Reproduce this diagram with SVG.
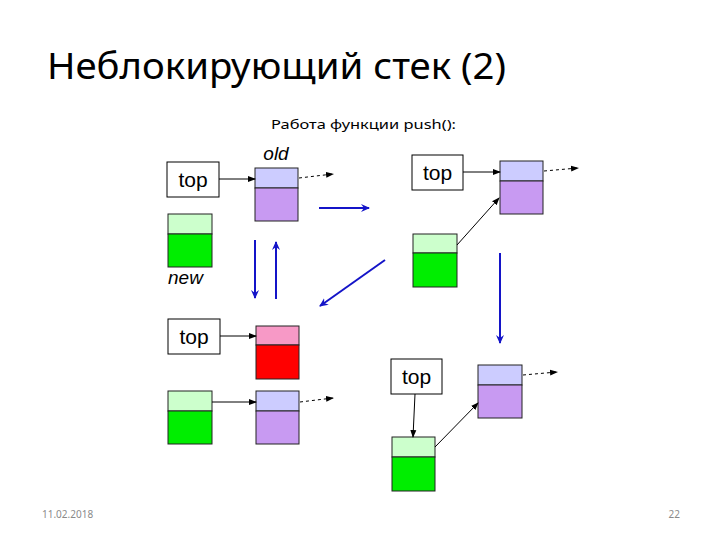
<svg xmlns="http://www.w3.org/2000/svg" width="720" height="540" viewBox="0 0 720 540">
<defs>
<marker id="ah" markerWidth="8" markerHeight="8" refX="7" refY="4" orient="auto" markerUnits="userSpaceOnUse"><path d="M0,1 L8,4 L0,7 Z" fill="#000"/></marker>
<marker id="bh" markerWidth="10" markerHeight="10" refX="8" refY="5" orient="auto" markerUnits="userSpaceOnUse"><path d="M0,1 L9,5 L0,9 L3,5 Z" fill="#1414c8"/></marker>
<style>
.box{fill:#fff;stroke:#000;stroke-width:1}
.lbl{font-family:"Liberation Sans",Arial,sans-serif;font-size:21px;fill:#000;text-anchor:middle}
.it{font-family:"Liberation Sans",Arial,sans-serif;font-size:19px;font-style:italic;fill:#000}
.pt{fill:#ccccff;stroke:#222;stroke-width:1}
.pb{fill:#c89af2;stroke:#222;stroke-width:1}
.gt{fill:#ccffcc;stroke:#222;stroke-width:1}
.gb{fill:#00ee00;stroke:#222;stroke-width:1}
.rt{fill:#f799c6;stroke:#222;stroke-width:1}
.rb{fill:#ff0000;stroke:#222;stroke-width:1}
.ln{stroke:#000;stroke-width:1;fill:none;marker-end:url(#ah)}
.ds{stroke:#000;stroke-width:1;fill:none;stroke-dasharray:3,3;marker-end:url(#ah)}
.bl{stroke:#1414c8;stroke-width:2;fill:none;marker-end:url(#bh)}
</style>
</defs>
<rect width="720" height="540" fill="#fff"/>
<text x="47" y="79" font-family="'Noto Sans','Open Sans',sans-serif" font-size="37" textLength="459" lengthAdjust="spacingAndGlyphs" fill="#000">Неблокирующий стек (2)</text>
<text x="271" y="129" font-family="'Noto Sans','Open Sans',sans-serif" font-size="13" textLength="185" lengthAdjust="spacingAndGlyphs" fill="#000">Работа функции push():</text>

<g id="s1-top"><rect class="box" x="167" y="162" width="52" height="35"/><text class="lbl" x="193" y="187">top</text></g>
<g id="s1-old"><text class="it" x="276" y="160" text-anchor="middle">old</text><rect class="pt" x="255" y="168" width="43" height="20"/><rect class="pb" x="255" y="188" width="43" height="33"/></g>
<g id="s1-new"><rect class="gt" x="168" y="214" width="44" height="20"/><rect class="gb" x="168" y="234" width="44" height="33"/><text class="it" x="168" y="284">new</text></g>

<g id="s2-top"><rect class="box" x="412" y="155" width="51" height="35"/><text class="lbl" x="437.5" y="180">top</text></g>
<g id="s2-old"><rect class="pt" x="500" y="161" width="43" height="20"/><rect class="pb" x="500" y="181" width="43" height="33"/></g>
<g id="s2-new"><rect class="gt" x="413" y="234" width="44" height="19"/><rect class="gb" x="413" y="253" width="44" height="34"/></g>

<g id="s3-top"><rect class="box" x="168" y="319" width="52" height="35"/><text class="lbl" x="194" y="344">top</text></g>
<g id="s3-red"><rect class="rt" x="256" y="326" width="43" height="19"/><rect class="rb" x="256" y="345" width="43" height="34"/></g>
<g id="s3-new"><rect class="gt" x="168" y="391" width="44" height="20"/><rect class="gb" x="168" y="411" width="44" height="33"/></g>
<g id="s3-old"><rect class="pt" x="256" y="391" width="43" height="20"/><rect class="pb" x="256" y="411" width="43" height="33"/></g>

<g id="s4-top"><rect class="box" x="391" y="359" width="51" height="35"/><text class="lbl" x="416.5" y="384">top</text></g>
<g id="s4-old"><rect class="pt" x="478" y="365" width="44" height="20"/><rect class="pb" x="478" y="385" width="44" height="33"/></g>
<g id="s4-new"><rect class="gt" x="392" y="437" width="43" height="20"/><rect class="gb" x="392" y="457" width="43" height="34"/></g>

<g id="connectors">
<line class="ln" x1="219" y1="179" x2="255" y2="179"/>
<line class="ds" x1="299" y1="178" x2="333" y2="174"/>
<line class="ln" x1="463" y1="172" x2="500" y2="172"/>
<line class="ds" x1="544" y1="171" x2="578" y2="168"/>
<line class="ln" x1="457" y1="245" x2="499" y2="198"/>
<line class="ln" x1="220" y1="336" x2="256" y2="336"/>
<line class="ln" x1="212" y1="402" x2="256" y2="402"/>
<line class="ds" x1="300" y1="402" x2="333" y2="398"/>
<line class="ds" x1="523" y1="375" x2="557" y2="372"/>
<line class="ln" x1="415" y1="394" x2="413" y2="437"/>
<line class="ln" x1="435" y1="447" x2="478" y2="403"/>
<line class="bl" x1="319" y1="208" x2="369" y2="208"/>
<line class="bl" x1="255" y1="240" x2="255" y2="298"/>
<line class="bl" x1="276" y1="299" x2="276" y2="242"/>
<line class="bl" x1="385" y1="260" x2="320" y2="306"/>
<line class="bl" x1="500" y1="253" x2="500" y2="343"/>
</g>

<text x="42" y="518" font-family="'Noto Sans','Open Sans',sans-serif" font-size="10" fill="#8a8a8a">11.02.2018</text>
<text x="680" y="518" text-anchor="end" font-family="'Noto Sans','Open Sans',sans-serif" font-size="10" fill="#8a8a8a">22</text>
</svg>
